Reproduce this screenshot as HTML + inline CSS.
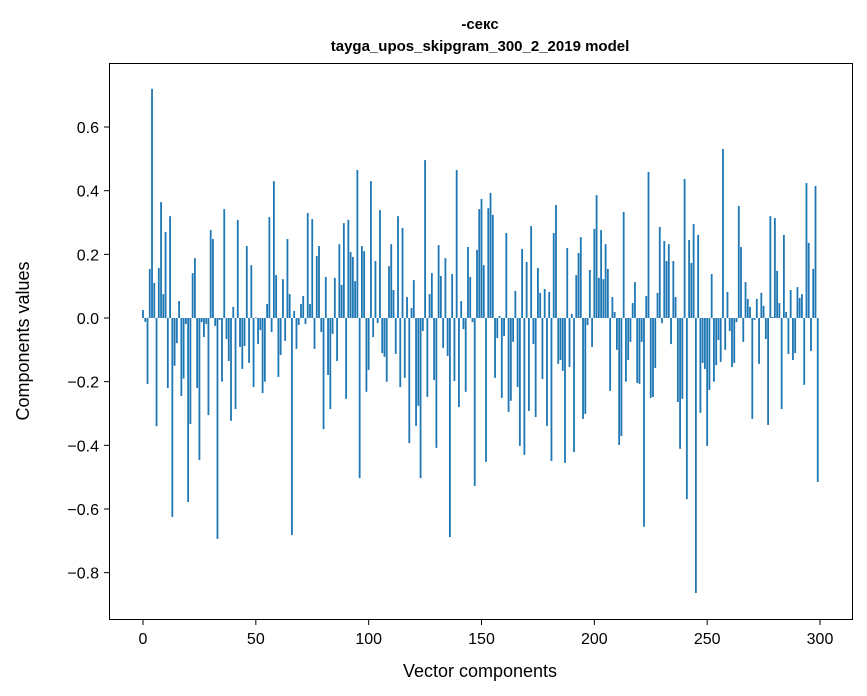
<!DOCTYPE html>
<html><head><meta charset="utf-8"><style>
body{margin:0;background:#fff;font-family:"Liberation Sans","DejaVu Sans",sans-serif}
svg{display:block}
</style></head><body>
<svg id="chart" width="867" height="696" xmlns="http://www.w3.org/2000/svg">
<rect width="867" height="696" fill="#fff"/>
<text x="480" y="29" text-anchor="middle" font-size="15" font-weight="bold">-секс</text>
<text x="480" y="51" text-anchor="middle" font-size="15" font-weight="bold">tayga_upos_skipgram_300_2_2019 model</text>
<g id="bars"></g>
<g id="yticks"></g>
<g id="xticks"></g>
<rect x="109.5" y="63.5" width="743" height="556" fill="none" stroke="#000" stroke-width="1"/>
<text x="480" y="677" text-anchor="middle" font-size="18">Vector components</text>
<text x="0" y="0" transform="translate(29,341) rotate(-90)" text-anchor="middle" font-size="18">Components values</text>
</svg>
<script>
const values = [
0.025,-0.012,-0.207,0.154,0.72,0.11,-0.34,0.157,0.364,0.075,
0.27,-0.22,0.32,-0.625,-0.15,-0.079,0.053,-0.245,-0.19,-0.019,
-0.578,-0.333,0.141,0.188,-0.22,-0.446,-0.013,-0.06,-0.019,-0.305,
0.276,0.248,-0.025,-0.694,-0.006,-0.2,0.342,-0.066,-0.135,-0.323,
0.035,-0.286,0.308,-0.091,-0.16,-0.088,0.226,-0.141,0.166,-0.217,
0.002,-0.082,-0.038,-0.236,-0.2,0.044,0.317,-0.044,0.43,0.135,
-0.185,-0.116,0.122,-0.072,0.248,0.075,-0.682,0.022,-0.097,-0.022,
0.044,0.069,-0.019,0.33,0.044,0.311,-0.097,0.195,0.226,-0.044,
-0.349,0.129,-0.179,-0.286,-0.05,0.126,-0.135,0.232,0.104,0.298,
-0.254,0.308,0.207,0.192,0.116,0.465,-0.503,0.226,0.21,-0.232,
-0.163,0.43,-0.06,0.179,-0.016,0.339,-0.11,-0.122,-0.2,0.163,
0.232,0.088,-0.113,0.32,-0.217,0.283,-0.188,0.066,-0.393,0.031,
0.119,-0.339,-0.276,-0.503,-0.041,0.496,-0.248,0.075,0.141,-0.195,
-0.408,0.229,0.132,-0.094,0.188,-0.119,-0.688,0.138,-0.198,0.465,
-0.28,0.053,-0.035,-0.232,0.223,0.129,-0.013,-0.528,0.214,0.342,
0.374,0.166,-0.452,0.345,0.393,0.324,-0.188,-0.063,0.006,-0.251,
-0.057,0.267,-0.295,-0.26,-0.075,0.085,-0.217,-0.402,0.217,-0.43,
0.176,-0.292,0.289,-0.082,-0.311,0.157,0.079,-0.192,0.091,-0.339,
0.082,-0.449,0.267,0.355,-0.144,-0.132,-0.166,-0.455,0.22,-0.154,
0.013,-0.421,0.135,0.204,0.254,-0.317,-0.301,-0.022,0.151,-0.091,
0.28,0.386,0.126,0.276,0.122,0.232,0.154,-0.229,0.066,0.019,
-0.1,-0.399,-0.371,0.333,-0.2,-0.132,-0.075,0.047,0.113,-0.204,
-0.207,-0.075,-0.656,0.069,0.459,-0.251,-0.248,-0.157,0.079,0.286,
-0.016,0.242,0.179,0.232,-0.082,0.179,0.066,-0.264,-0.411,-0.254,
0.437,-0.569,0.245,0.173,0.295,-0.864,0.261,-0.298,-0.141,-0.16,
-0.402,-0.226,0.138,-0.2,-0.148,-0.069,-0.138,0.531,-0.1,0.082,
-0.041,-0.154,-0.141,-0.013,0.352,0.223,-0.075,0.113,0.06,0.035,
-0.317,-0.006,0.06,-0.144,0.079,0.038,-0.066,-0.336,0.32,0.003,
0.314,0.148,0.047,-0.286,0.261,0.019,-0.113,0.088,-0.132,-0.11,
0.097,0.063,0.075,-0.21,0.424,0.236,-0.104,0.154,0.415,-0.515
];
const yTickValues = [0.6,0.4,0.2,0.0,-0.2,-0.4,-0.6,-0.8];
const yTickLabels = ["0.6","0.4","0.2","0.0","\u22120.2","\u22120.4","\u22120.6","\u22120.8"];
const xTickValues = [0,50,100,150,200,250,300];
const xTickLabels = ["0","50","100","150","200","250","300"];

const NS = "http://www.w3.org/2000/svg";
function xs(v){ return 143 + v*(677/300); }
function ys(v){ return 318 - v*318.3; }
const bars = document.getElementById('bars');
const bw = 0.8*(677/300);
values.forEach((v,i)=>{
  const r = document.createElementNS(NS,'rect');
  const y0 = ys(0), y1 = ys(v);
  r.setAttribute('x', xs(i)-bw/2);
  r.setAttribute('y', Math.min(y0,y1));
  r.setAttribute('width', bw);
  r.setAttribute('height', Math.max(Math.abs(y1-y0),0.3));
  r.setAttribute('fill', '#1f77b4');
  
  
  bars.appendChild(r);
});
const yt = document.getElementById('yticks');
yTickValues.forEach((v,i)=>{
  const y = ys(v);
  const l = document.createElementNS(NS,'line');
  l.setAttribute('x1',104); l.setAttribute('x2',109);
  l.setAttribute('y1',y); l.setAttribute('y2',y);
  l.setAttribute('stroke','#000');
  
  
  yt.appendChild(l);
  const t = document.createElementNS(NS,'text');
  t.setAttribute('x',99); t.setAttribute('y',y+6);
  t.setAttribute('text-anchor','end'); t.setAttribute('font-size','16');
  t.textContent = yTickLabels[i];
  
  
  yt.appendChild(t);
});
const xt = document.getElementById('xticks');
xTickValues.forEach((v,i)=>{
  const x = xs(v);
  const l = document.createElementNS(NS,'line');
  l.setAttribute('x1',x); l.setAttribute('x2',x);
  l.setAttribute('y1',620); l.setAttribute('y2',625);
  l.setAttribute('stroke','#000');
  
  
  xt.appendChild(l);
  const t = document.createElementNS(NS,'text');
  t.setAttribute('x',x); t.setAttribute('y',644);
  t.setAttribute('text-anchor','middle'); t.setAttribute('font-size','16');
  t.textContent = xTickLabels[i];
  
  
  xt.appendChild(t);
});
</script>
</body></html>
